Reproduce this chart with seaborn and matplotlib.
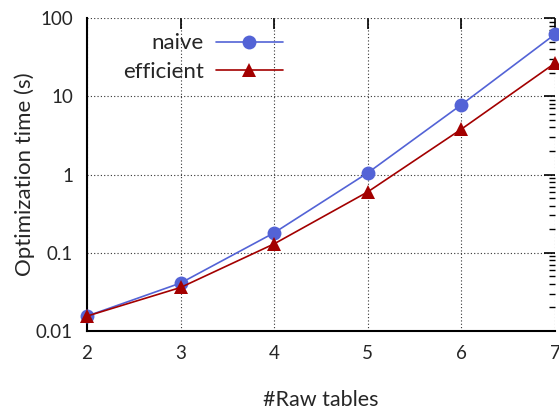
import matplotlib
matplotlib.use("Agg")
import matplotlib.pyplot as plt
import seaborn as sns
import pandas as pd
import numpy as np
from matplotlib.ticker import LogLocator, FixedLocator, NullFormatter
from matplotlib.lines import Line2D

raw_tables = [2, 3, 4, 5, 6, 7]
naive = [0.0155, 0.041, 0.18, 1.05, 7.8, 62]
efficient = [0.0155, 0.036, 0.13, 0.60, 3.8, 26.5]
series_names = ["naive", "efficient"]
y_ticks = [0.01, 0.1, 1, 10, 100]
y_tick_labels = ["0.01", "0.1", "1", "10", "100"]

df = pd.DataFrame({
    "tables": raw_tables * 2,
    "time": naive + efficient,
    "method": [series_names[0]] * len(raw_tables) + [series_names[1]] * len(raw_tables),
})

sns.set_style("white")
plt.rcParams["font.family"] = ["Lato", "DejaVu Sans"]
plt.rcParams["font.size"] = 13

fig = plt.figure(figsize=(5.59, 4.09), dpi=100)
ax = fig.add_axes([87 / 559, (409 - 331) / 409, (555 - 87) / 559, (331 - 18) / 409])

palette = {"naive": "#5363d6", "efficient": "#a30000"}
markers = {"naive": "o", "efficient": "^"}
sns.lineplot(data=df, x="tables", y="time", hue="method", style="method",
             palette=palette, markers=markers, dashes=False, markersize=10,
             markeredgewidth=0, linewidth=1.2, ax=ax, legend=False, clip_on=False, zorder=3)

ax.set_yscale("log")
ax.set_xlim(2, 7)
ax.set_ylim(0.01, 100)
ax.yaxis.set_major_locator(FixedLocator(y_ticks))
ax.set_yticklabels(y_tick_labels)
ax.yaxis.set_minor_locator(LogLocator(base=10, subs=np.arange(2, 10)))
ax.yaxis.set_minor_formatter(NullFormatter())
ax.set_xticks(raw_tables)

ax.grid(True, which="major", linestyle=(0, (1, 2)), color="#333333", linewidth=0.8)
for s in ["top", "right"]:
    ax.spines[s].set_visible(False)
for s in ["left", "bottom"]:
    ax.spines[s].set_linewidth(1.5)
    ax.spines[s].set_color("black")

ax.tick_params(which="both", direction="in", top=True, right=True, color="black")
ax.tick_params(which="major", length=8, width=1.2, labelsize=13.5, pad=10)
ax.tick_params(which="minor", length=4, width=1.0)

ax.set_xlabel("#Raw tables", fontsize=15.5, labelpad=20)
ax.set_ylabel("Optimization time (s)", fontsize=16, labelpad=1)

handles = [Line2D([], [], color=palette[n], marker=markers[n], markersize=10,
                  markeredgewidth=0, linewidth=1.2) for n in series_names]
leg = ax.legend(handles, series_names, loc="upper left", bbox_to_anchor=(0.034, 1.015),
                frameon=False, markerfirst=False, handlelength=3.0, handletextpad=0.55,
                labelspacing=0.38, fontsize=16)
for t in leg.get_texts():
    t.set_ha("right")

fig.savefig("out.png", dpi=100)
